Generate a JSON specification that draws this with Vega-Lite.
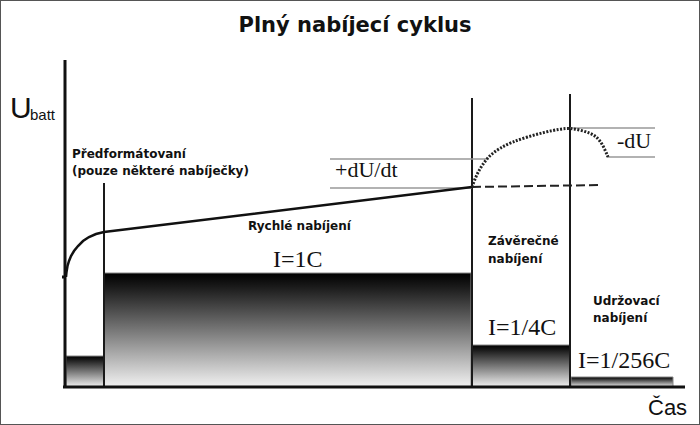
{
  "$schema": "https://vega.github.io/schema/vega-lite/v6.json",
  "width": 700,
  "height": 425,
  "autosize": {"type": "fit", "contains": "padding"},
  "padding": 0,
  "background": "white",
  "config": {"view": {"stroke": "#555", "strokeWidth": 2}},
  "encoding": {
    "x": {"field": "t", "type": "quantitative", "scale": {"domain": [0, 700], "nice": false, "zero": false}, "axis": null},
    "y": {"field": "v", "type": "quantitative", "scale": {"domain": [0, 425], "nice": false, "zero": false}, "axis": null}
  },
  "layer": [
    {
      "data": {"values": [
        {"t": 66, "t2": 104, "v": 38, "v2": 69},
        {"t": 104, "t2": 471, "v": 38, "v2": 152},
        {"t": 472, "t2": 570, "v": 38, "v2": 80},
        {"t": 571, "t2": 673, "v": 38, "v2": 48}
      ]},
      "mark": {"type": "rect", "stroke": "#888", "strokeWidth": 1,
        "fill": {"gradient": "linear", "x1": 0, "y1": 0, "x2": 0, "y2": 1,
          "stops": [{"offset": 0, "color": "#000"}, {"offset": 0.12, "color": "#1a1a1a"}, {"offset": 0.5, "color": "#777"}, {"offset": 1, "color": "#f2f2f2"}]}},
      "encoding": {"x2": {"field": "t2"}, "y2": {"field": "v2"}}
    },
    {
      "data": {"values": [
        {"t": 104, "v": 38, "v2": 242},
        {"t": 472, "v": 37, "v2": 327},
        {"t": 570, "v": 39, "v2": 331}
      ]},
      "mark": {"type": "rule", "color": "#1a1a1a", "strokeWidth": 2},
      "encoding": {"y2": {"field": "v2"}}
    },
    {
      "data": {"values": [
        {"t": 65, "t2": 65, "v": 37, "v2": 365},
        {"t": 63, "t2": 685, "v": 38, "v2": 38},
        {"t": 62, "t2": 66, "v": 148, "v2": 148}
      ]},
      "mark": {"type": "rule", "color": "#111", "strokeWidth": 3},
      "encoding": {"x2": {"field": "t2"}, "y2": {"field": "v2"}}
    },
    {
      "data": {"values": [
        {"t": 330, "t2": 487, "v": 266},
        {"t": 330, "t2": 472, "v": 237},
        {"t": 570, "t2": 655, "v": 297},
        {"t": 607, "t2": 655, "v": 268}
      ]},
      "mark": {"type": "rule", "color": "#999", "strokeWidth": 1.5},
      "encoding": {"x2": {"field": "t2"}}
    },
    {
      "data": {"values": [
        {"t": 66, "v": 148}, {"t": 66.5, "v": 153}, {"t": 67.5, "v": 159}, {"t": 69, "v": 164},
        {"t": 71, "v": 169}, {"t": 74, "v": 174}, {"t": 78, "v": 179}, {"t": 83, "v": 184},
        {"t": 89, "v": 188}, {"t": 96, "v": 191}, {"t": 104, "v": 193},
        {"t": 472, "v": 238}
      ]},
      "mark": {"type": "line", "color": "#111", "strokeWidth": 2.5},
      "encoding": {"order": {"field": "t", "type": "quantitative"}}
    },
    {
      "data": {"values": [{"t": 472, "v": 238}, {"t": 600, "v": 240}]},
      "mark": {"type": "line", "color": "#222", "strokeWidth": 2, "strokeDash": [9, 4]},
      "encoding": {}
    },
    {
      "data": {"values": [
        {"t": 472, "v": 238, "o": 0}, {"t": 476, "v": 249, "o": 1}, {"t": 482, "v": 260, "o": 2},
        {"t": 490, "v": 270, "o": 3}, {"t": 500, "v": 277, "o": 4}, {"t": 512, "v": 283, "o": 5},
        {"t": 527, "v": 288, "o": 6}, {"t": 545, "v": 293, "o": 7}, {"t": 560, "v": 296, "o": 8},
        {"t": 570, "v": 297, "o": 9}, {"t": 580, "v": 295, "o": 10}, {"t": 590, "v": 292, "o": 11},
        {"t": 597, "v": 288, "o": 12}, {"t": 603, "v": 280, "o": 13}, {"t": 608, "v": 268, "o": 14}
      ]},
      "mark": {"type": "line", "color": "#222", "strokeWidth": 3, "strokeDash": [2, 1.5], "interpolate": "basis"},
      "encoding": {"order": {"field": "o", "type": "quantitative"}}
    },
    {
      "data": {"values": [{"t": 355, "v": 393, "label": "Plný nabíjecí cyklus"}]},
      "mark": {"type": "text", "font": "DejaVu Sans", "fontWeight": "bold", "fontSize": 21, "align": "center", "baseline": "alphabetic", "color": "#111"},
      "encoding": {"text": {"field": "label"}}
    },
    {
      "data": {"values": [
        {"t": 72, "v": 267, "label": "Předformátovaní"},
        {"t": 72, "v": 250, "label": "(pouze některé nabíječky)"},
        {"t": 248, "v": 195, "label": "Rychlé nabíjení"},
        {"t": 488, "v": 180, "label": "Závěrečné"},
        {"t": 488, "v": 162, "label": "nabíjení"},
        {"t": 593, "v": 120, "label": "Udržovací"},
        {"t": 593, "v": 103, "label": "nabíjení"}
      ]},
      "mark": {"type": "text", "font": "DejaVu Sans", "fontWeight": "bold", "fontSize": 12, "align": "left", "baseline": "alphabetic", "color": "#111"},
      "encoding": {"text": {"field": "label"}}
    },
    {
      "data": {"values": [
        {"t": 273, "v": 158, "label": "I=1C"},
        {"t": 488, "v": 90, "label": "I=1/4C"},
        {"t": 578, "v": 57, "label": "I=1/256C"}
      ]},
      "mark": {"type": "text", "font": "Liberation Serif", "fontSize": 24, "align": "left", "baseline": "alphabetic", "color": "#111"},
      "encoding": {"text": {"field": "label"}}
    },
    {
      "data": {"values": [
        {"t": 335, "v": 248, "label": "+dU/dt"},
        {"t": 617, "v": 277, "label": "-dU"}
      ]},
      "mark": {"type": "text", "font": "Liberation Serif", "fontSize": 22, "align": "left", "baseline": "alphabetic", "color": "#111"},
      "encoding": {"text": {"field": "label"}}
    },
    {
      "data": {"values": [{"t": 10, "v": 307, "label": "U"}]},
      "mark": {"type": "text", "font": "Liberation Sans", "fontSize": 30, "align": "left", "baseline": "alphabetic", "color": "#111"},
      "encoding": {"text": {"field": "label"}}
    },
    {
      "data": {"values": [{"t": 30, "v": 305, "label": "batt"}]},
      "mark": {"type": "text", "font": "Liberation Sans", "fontSize": 15, "align": "left", "baseline": "alphabetic", "color": "#111"},
      "encoding": {"text": {"field": "label"}}
    },
    {
      "data": {"values": [{"t": 648, "v": 10, "label": "Čas"}]},
      "mark": {"type": "text", "font": "Liberation Sans", "fontSize": 22, "align": "left", "baseline": "alphabetic", "color": "#111"},
      "encoding": {"text": {"field": "label"}}
    }
  ]
}
